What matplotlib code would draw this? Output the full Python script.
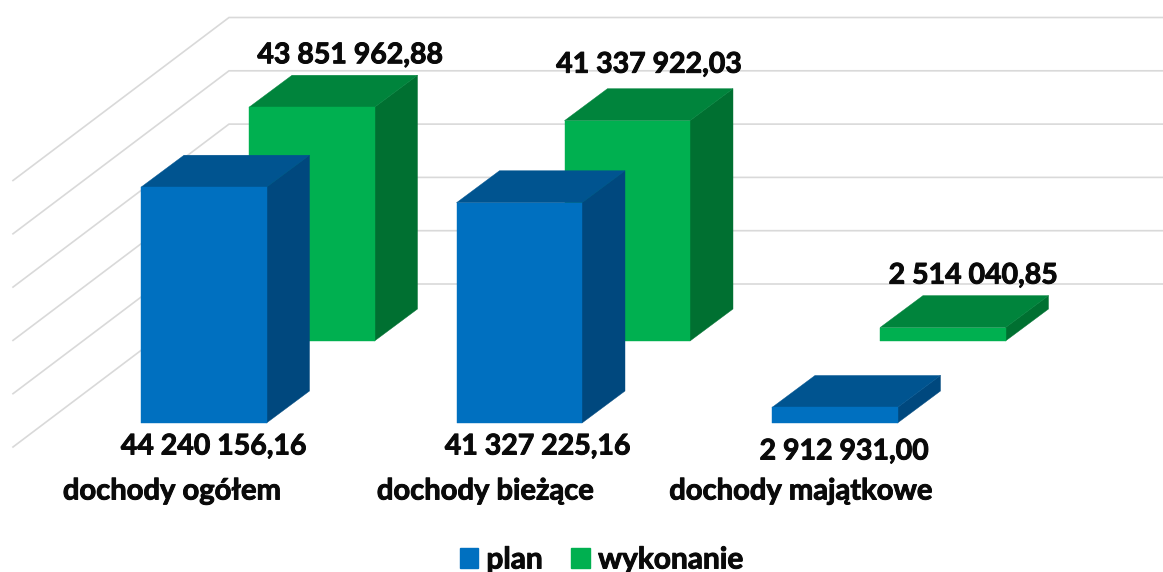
import matplotlib
matplotlib.use("Agg")
import matplotlib.pyplot as plt
import matplotlib.patheffects as pe
from matplotlib.patches import Patch, Polygon

# ---- data ----
categories = ["dochody ogółem", "dochody bieżące", "dochody majątkowe"]
series_names = ["plan", "wykonanie"]
plan = [44240156.16, 41327225.16, 2912931.00]
wykonanie = [43851962.88, 41337922.03, 2514040.85]
grid_values = [10e6, 20e6, 30e6, 40e6, 50e6, 60e6]

# ---- layout ----
W, H = 1163, 572
PX_PER_UNIT = 5.33 / 1e6      # vertical scale of the value axis
BASE_PX = 423                 # screen row of value 0 for the front series
BAR_LEFT = 141
BAR_W = 125.5
CAT_STEP = 315.5
SERIES_DX, SERIES_DY = 108, 82
DEPTH_DX, DEPTH_DY = 43, 32
WALL_X = 229
WALL_BASE_DY = 85.7           # back wall zero sits this many px above front series zero
FLOOR_DX, FLOOR_DY = 216, 163

COLORS = {
    "plan": ("#0070C0", "#005490", "#00487E"),
    "wykonanie": ("#00B050", "#00843C", "#007031"),
}
HEAVY = [pe.withStroke(linewidth=0.7, foreground="#0a0a0a")]
FONT = dict(family="Lato", fontweight="bold", color="#0a0a0a", path_effects=HEAVY)
LABEL_SIZE = 20.5
CAT_SIZE = 21


def px2val(dy):
    return dy / PX_PER_UNIT


def fmt(v):
    return f"{v:,.2f}".replace(",", " ").replace(".", ",")


plt.rcParams["font.family"] = "Lato"
fig = plt.figure(figsize=(W / 100, H / 100), dpi=100)
ax = fig.add_axes([0, 0, 1, 1])
ax.set_xlim(0, W)
ax.set_ylim(px2val(BASE_PX - H), px2val(BASE_PX))
ax.axis("off")

# walls: gridlines on the back wall and the floor-to-wall diagonals
wall_zero = px2val(WALL_BASE_DY)
for g in grid_values:
    yb = wall_zero + g
    ax.plot([WALL_X - FLOOR_DX, WALL_X, W], [yb - px2val(FLOOR_DY), yb, yb],
            color="#D9D9D9", lw=1.2, solid_joinstyle="miter", zorder=1)


def bar3d(x, base, value, cols, z):
    front, top, side = cols
    dx, dy = DEPTH_DX, px2val(DEPTH_DY)
    y0, y1 = base, base + value
    ax.add_patch(Polygon([(x + BAR_W, y0), (x + BAR_W + dx, y0 + dy),
                          (x + BAR_W + dx, y1 + dy), (x + BAR_W, y1)],
                         closed=True, fc=side, ec=side, lw=0.3, zorder=z))
    ax.add_patch(Polygon([(x, y1), (x + dx, y1 + dy), (x + BAR_W + dx, y1 + dy),
                          (x + BAR_W, y1)],
                         closed=True, fc=top, ec=top, lw=0.3, zorder=z))
    ax.add_patch(Polygon([(x, y0), (x + BAR_W, y0), (x + BAR_W, y1), (x, y1)],
                         closed=True, fc=front, ec=front, lw=0.3, zorder=z))


for i in range(len(categories)):
    xb = BAR_LEFT + i * CAT_STEP
    xg = xb + SERIES_DX
    bar3d(xg, px2val(SERIES_DY), wykonanie[i], COLORS["wykonanie"], 3 + 2 * i)
    bar3d(xb, 0, plan[i], COLORS["plan"], 4 + 2 * i)

# value labels (below the plan bars, above the wykonanie bars)
plan_label_dx = [10, 18.5, 9.5]
plan_label_drop = [23.5, 23.5, 28.5]
for i, v in enumerate(plan):
    xc = BAR_LEFT + i * CAT_STEP + BAR_W / 2 + plan_label_dx[i]
    ax.text(xc, -px2val(plan_label_drop[i]), fmt(v), ha="center", va="center",
            fontsize=LABEL_SIZE, zorder=20, **FONT)
wyk_label_dx = [17, 0.5, 9]
wyk_label_lift = [-52, -56, -52]
for i, v in enumerate(wykonanie):
    xc = BAR_LEFT + i * CAT_STEP + SERIES_DX + BAR_W / 2 + DEPTH_DX / 2 + wyk_label_dx[i]
    y = px2val(SERIES_DY) + v - px2val(wyk_label_lift[i])
    ax.text(xc, y, fmt(v), ha="center", va="center",
            fontsize=LABEL_SIZE, zorder=20, **FONT)

# category labels
cat_dx = [-32, -34, -34]
for i, c in enumerate(categories):
    xc = BAR_LEFT + i * CAT_STEP + BAR_W / 2 + cat_dx[i]
    ax.text(xc, -px2val(68.5), c, ha="center", va="center",
            fontsize=CAT_SIZE, zorder=20, **FONT)

handles = [Patch(fc=COLORS[n][0], ec=COLORS[n][0], label=n) for n in series_names]
leg = ax.legend(handles=handles, loc="center", bbox_to_anchor=(601.5 / W, 1 - 559.5 / H),
                ncol=2, frameon=False, handlelength=0.62, handleheight=0.62,
                handletextpad=0.28, columnspacing=0.95, borderpad=0, borderaxespad=0,
                prop=dict(family="Lato", weight="bold", size=CAT_SIZE + 0.5))
for t in leg.get_texts():
    t.set_color("#0a0a0a")
    t.set_path_effects(HEAVY)

fig.savefig("out.png", dpi=100)
